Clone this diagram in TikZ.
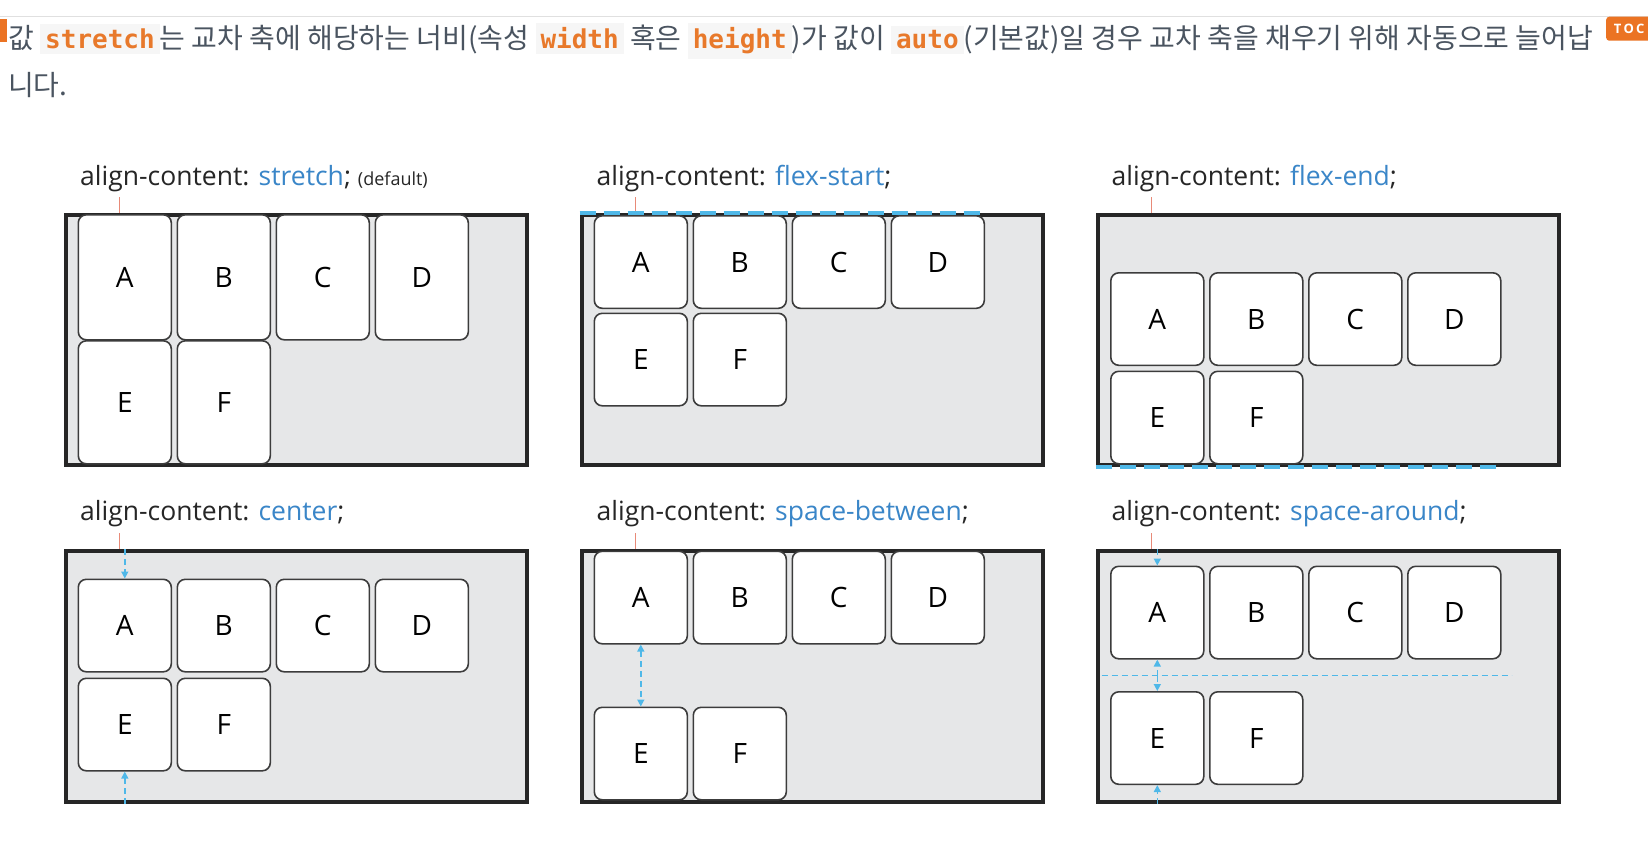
\documentclass[tikz,border=0pt]{standalone}
\usepackage{fontspec}
\setmainfont{Open Sans}
\newfontfamily\krfont{Noto Sans CJK KR}
\newfontfamily\codefont{DejaVu Sans Mono}
\usetikzlibrary{arrows.meta}
\definecolor{boxgray}{HTML}{E6E7E8}
\definecolor{edgegray}{HTML}{3C3C3C}
\definecolor{valblue}{HTML}{3A86C8}
\definecolor{guideblue}{HTML}{4FB8E8}
\definecolor{tickred}{HTML}{E88A78}
\definecolor{codeorange}{HTML}{E8792B}
\definecolor{codebg}{HTML}{F6F6F6}
\definecolor{bodytext}{HTML}{4A5460}
\definecolor{tocorange}{HTML}{EB7323}
\newcommand{\codebit}[1]{{\setlength{\fboxsep}{5pt}\colorbox{codebg}{\textcolor{codeorange}{\codefont\bfseries\fontsize{26}{26}\selectfont #1}}}}
\begin{document}
\begin{tikzpicture}[x=1pt, y=-1pt,
% common options for the outer containers:
wrap/.style = {draw=black!85, line width=4pt, fill=boxgray, anchor=north west,
            minimum width=461pt, minimum height=250.5pt, inner sep=0},
% common options for the flex items:
item/.style = {draw=edgegray, line width=1.6pt, fill=white, rounded corners=8pt,
            anchor=north west, minimum width=93pt, minimum height=92.5pt,
            inner sep=0, font=\fontsize{28}{28}\selectfont},
tall/.style = {minimum height=125pt},
heading/.style = {anchor=base west, inner sep=0, text=black!85,
            font=\fontsize{26.5}{26.5}\selectfont},
pinkline/.style = {draw=tickred, line width=1pt},
guide/.style = {draw=guideblue, line width=1.5pt, dash pattern=on 6pt off 4pt},
edgeguide/.style = {draw=guideblue, line width=4pt, dash pattern=on 16pt off 8pt},
gap/.style = {guide, -{Triangle[length=7pt,width=7pt]}},
twoway/.style = {guide, {Triangle[length=7pt,width=7pt]}-{Triangle[length=7pt,width=7pt]}}]
\fill[white] (0,0) rectangle (1648,852);
\useasboundingbox (0,0) rectangle (1648,852);
% page header
\draw[black!12, line width=1pt] (0,16.5) -- (1648,16.5);
\fill[tocorange] (0,19) rectangle (7,42);
\node[fill=tocorange, text=white, anchor=north west, inner sep=0, minimum width=46pt,
      minimum height=24pt, rounded corners=3pt,
      font=\bfseries\fontsize{13}{13}\selectfont] (toc) at (1606,16.5) {T\,O\,C};
\node[anchor=west, inner sep=0, text=bodytext, font=\krfont\fontsize{28}{28}\selectfont] (T1) at (8,41)
   {값 \codebit{stretch}는 교차 축에 해당하는 너비(속성 \codebit{width} 혹은 \codebit{height})가 값이 \codebit{auto}(기본값)일 경우 교차 축을 채우기 위해 자동으로 늘어납};
\node[anchor=west, inner sep=0, text=bodytext, font=\krfont\fontsize{28}{28}\selectfont] (T2) at ([yshift=-44pt]T1.west) {니다.};
% stretch
\node[wrap] (W1) at (63.5,212.7) {};
\node[heading] (L1) at (80,185) {align-content: \textcolor{valblue}{stretch}; {\fontsize{18}{18}\selectfont (default)}};
\draw[pinkline] ([xshift=56pt]W1.north west) -- ++(0,-16);
\node[item, tall] (A1) at (77.5,214) {A};
\node[item, tall] (B1) at (176.5,214) {B};
\node[item, tall] (C1) at (275.5,214) {C};
\node[item, tall] (D1) at (374.5,214) {D};
\node[item, minimum height=123pt] (E1) at (77.5,340) {E};
\node[item, minimum height=123pt] (F1) at (176.5,340) {F};
% flex-start
\node[wrap] (W2) at (579.5,212.7) {};
\node[heading] (L2) at (596.5,185) {align-content: \textcolor{valblue}{flex-start};};
\draw[pinkline] ([xshift=56pt]W2.north west) -- ++(0,-16);
\node[item] (A2) at (593.5,215) {A};
\node[item] (B2) at (692.5,215) {B};
\node[item] (C2) at (791.5,215) {C};
\node[item] (D2) at (890.5,215) {D};
\node[item] (E2) at (593.5,312.5) {E};
\node[item] (F2) at (692.5,312.5) {F};
\draw[edgeguide] (W2.north west) -- (W2.north west -| D2.east);
% flex-end
\node[wrap] (W3) at (1096,212.7) {};
\node[heading] (L3) at (1111.5,185) {align-content: \textcolor{valblue}{flex-end};};
\draw[pinkline] ([xshift=55pt]W3.north west) -- ++(0,-16);
\node[item] (A3) at (1110,272) {A};
\node[item] (B3) at (1209,272) {B};
\node[item] (C3) at (1308,272) {C};
\node[item] (D3) at (1407,272) {D};
\node[item] (E3) at (1110,370.5) {E};
\node[item] (F3) at (1209,370.5) {F};
\draw[edgeguide] (W3.south west) -- (W3.south west -| D3.east);
% center
\node[wrap] (W4) at (63.5,549) {};
\node[heading] (L4) at (80,520) {align-content: \textcolor{valblue}{center};};
\draw[pinkline] ([xshift=56pt]W4.north west) -- ++(0,-16);
\node[item] (A4) at (77.5,578.5) {A};
\node[item] (B4) at (176.5,578.5) {B};
\node[item] (C4) at (275.5,578.5) {C};
\node[item] (D4) at (374.5,578.5) {D};
\node[item] (E4) at (77.5,677.5) {E};
\node[item] (F4) at (176.5,677.5) {F};
\draw[gap] (A4.north |- W4.north) -- (A4.north);
\draw[gap] (E4.south |- W4.south) -- (E4.south);
% space-between
\node[wrap] (W5) at (579.5,549) {};
\node[heading] (L5) at (596.5,520) {align-content: \textcolor{valblue}{space-between};};
\draw[pinkline] ([xshift=56pt]W5.north west) -- ++(0,-16);
\node[item] (A5) at (593.5,550.5) {A};
\node[item] (B5) at (692.5,550.5) {B};
\node[item] (C5) at (791.5,550.5) {C};
\node[item] (D5) at (890.5,550.5) {D};
\node[item] (E5) at (593.5,706.5) {E};
\node[item] (F5) at (692.5,706.5) {F};
\draw[twoway] (A5.south) -- (E5.north);
% space-around
\node[wrap] (W6) at (1096,549) {};
\node[heading] (L6) at (1111.5,520) {align-content: \textcolor{valblue}{space-around};};
\draw[pinkline] ([xshift=55pt]W6.north west) -- ++(0,-16);
\node[item] (A6) at (1110,565.5) {A};
\node[item] (B6) at (1209,565.5) {B};
\node[item] (C6) at (1308,565.5) {C};
\node[item] (D6) at (1407,565.5) {D};
\node[item] (E6) at (1110,691) {E};
\node[item] (F6) at (1209,691) {F};
\coordinate (M6) at (1101.7,675.5);
\coordinate (N6) at (1511.7,675.5);
\draw[guide, line width=1pt] (M6) -- (N6);
\draw[gap] (A6.north |- W6.north) -- (A6.north);
\draw[gap] (A6.south |- M6) -- (A6.south);
\draw[gap] (E6.north |- M6) -- (E6.north);
\draw[gap] (E6.south |- W6.south) -- (E6.south);
\end{tikzpicture}
\end{document}
